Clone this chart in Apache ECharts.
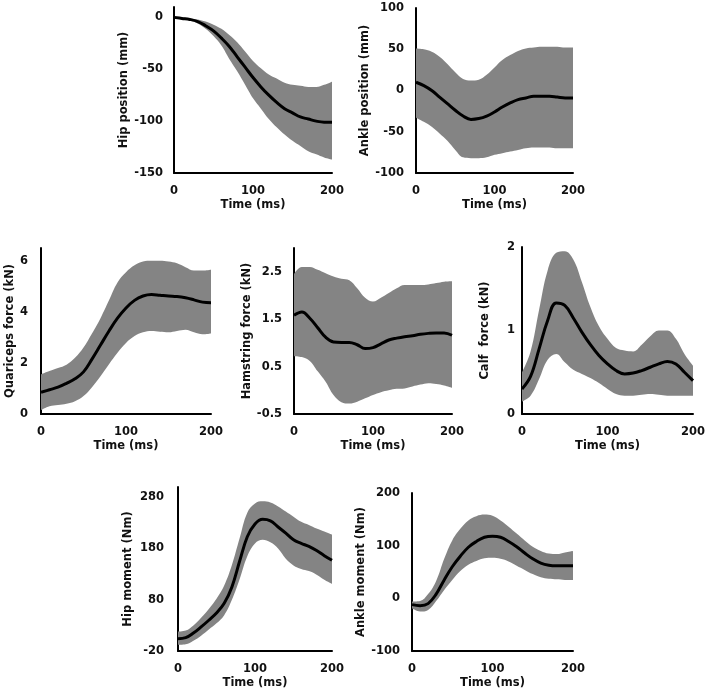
<!DOCTYPE html>
<html>
<head>
<meta charset="utf-8">
<script src="https://cdn.jsdelivr.net/npm/echarts@6/dist/echarts.min.js"></script>
<style>
  html, body { margin: 0; padding: 0; background: #fff; }
  #container { width: 708px; height: 697px; }
</style>
</head>
<body>
<div id="container"></div>
<script>
// time points (ms)
var time = [0, 10, 20, 30, 40, 50, 60, 70, 80, 90, 100, 110, 120, 130, 140, 150, 160, 170, 180, 190, 200];

// hip position (mm)
var hipPosMean  = [0, -1, -2, -4, -8, -13, -20, -28, -38, -48, -58, -67, -75, -82, -88, -92, -96, -98, -100, -101, -101];
var hipPosUpper = [0, 0, -1, -2, -4, -7, -11, -17, -24, -33, -42, -49, -55, -59, -63, -65, -66, -67, -67, -65, -62];
var hipPosLower = [0, -1, -3, -6, -11, -18, -27, -40, -52, -65, -78, -88, -98, -106, -113, -119, -124, -129, -132, -135, -137];

// ankle position (mm)
var anklePosMean  = [10, 6, 0, -8, -16, -24, -31, -35, -34, -31, -26, -20, -15, -11, -9, -7, -7, -7, -8, -9, -9];
var anklePosUpper = [51, 50, 47, 41, 32, 22, 14, 12, 13, 19, 28, 37, 43, 48, 51, 52, 53, 53, 53, 52, 52];
var anklePosLower = [-33, -38, -44, -52, -61, -72, -81, -82, -82, -81, -78, -76, -74, -72, -70, -69, -69, -69, -70, -70, -70];

// quadriceps force (kN)
var quadMean  = [0.85, 0.95, 1.05, 1.2, 1.38, 1.65, 2.15, 2.7, 3.25, 3.75, 4.15, 4.45, 4.62, 4.68, 4.65, 4.62, 4.6, 4.55, 4.47, 4.38, 4.36];
var quadUpper = [1.55, 1.68, 1.8, 1.93, 2.2, 2.6, 3.15, 3.75, 4.45, 5.15, 5.55, 5.82, 5.97, 6.0, 6.0, 5.97, 5.9, 5.75, 5.62, 5.62, 5.65];
var quadLower = [0.15, 0.3, 0.35, 0.4, 0.5, 0.7, 1.05, 1.48, 1.95, 2.4, 2.78, 3.05, 3.2, 3.25, 3.22, 3.2, 3.25, 3.3, 3.2, 3.12, 3.15];

// hamstring force (kN)
var hamMean  = [1.58, 1.65, 1.52, 1.32, 1.12, 1.02, 1.01, 1.01, 0.96, 0.88, 0.9, 0.98, 1.06, 1.1, 1.13, 1.15, 1.18, 1.2, 1.21, 1.21, 1.16];
var hamUpper = [2.45, 2.6, 2.6, 2.54, 2.47, 2.4, 2.35, 2.32, 2.15, 1.95, 1.87, 1.95, 2.05, 2.15, 2.22, 2.22, 2.22, 2.23, 2.26, 2.29, 2.3];
var hamLower = [0.72, 0.7, 0.62, 0.4, 0.18, -0.1, -0.25, -0.28, -0.24, -0.17, -0.1, -0.04, 0.0, 0.03, 0.04, 0.08, 0.12, 0.15, 0.13, 0.1, 0.05];

// calf force (kN)
var calfMean  = [0.3, 0.45, 0.78, 1.12, 1.33, 1.3, 1.15, 0.98, 0.83, 0.7, 0.6, 0.52, 0.48, 0.49, 0.52, 0.56, 0.6, 0.63, 0.6, 0.5, 0.4];
var calfUpper = [0.5, 0.75, 1.25, 1.72, 1.93, 1.95, 1.85, 1.58, 1.28, 1.05, 0.9, 0.79, 0.76, 0.75, 0.83, 0.93, 1.0, 1.0, 0.9, 0.72, 0.58];
var calfLower = [0.15, 0.22, 0.42, 0.65, 0.72, 0.62, 0.53, 0.48, 0.43, 0.37, 0.3, 0.24, 0.22, 0.22, 0.23, 0.24, 0.23, 0.22, 0.22, 0.22, 0.22];

// hip moment (Nm)
var hipMomMean  = [4, 6, 15, 27, 40, 54, 73, 105, 155, 203, 228, 237, 234, 222, 210, 197, 190, 184, 176, 166, 157];
var hipMomUpper = [18, 20, 30, 45, 62, 82, 108, 148, 200, 250, 268, 272, 270, 262, 252, 242, 232, 226, 219, 213, 207];
var hipMomLower = [-8, -7, 0, 10, 22, 34, 50, 80, 120, 165, 190, 197, 192, 180, 160, 147, 140, 136, 129, 119, 111];

// ankle moment (Nm)
var ankleMomMean  = [-12, -14, -10, 8, 35, 60, 80, 97, 108, 116, 118, 116, 108, 98, 86, 75, 67, 63, 62, 62, 62];
var ankleMomUpper = [-6, -5, 8, 33, 75, 110, 132, 148, 156, 159, 157, 148, 136, 123, 110, 98, 90, 85, 84, 87, 90];
var ankleMomLower = [-19, -25, -22, -5, 16, 35, 52, 64, 71, 76, 77, 75, 70, 62, 54, 46, 40, 37, 36, 35, 35];

var panels = [
	{ name: 'Hip position (mm)', mean: hipPosMean, upper: hipPosUpper, lower: hipPosLower,
	  grid: [174, 7, 158, 166], min: -150, max: 10, interval: 50, margin: 11, gap: 41 },
	{ name: 'Ankle position (mm)', mean: anklePosMean, upper: anklePosUpper, lower: anklePosLower,
	  grid: [416, 8, 157, 165], min: -100, max: 100, interval: 50, margin: 12, gap: 41 },
	{ name: 'Quariceps force (kN)', mean: quadMean, upper: quadUpper, lower: quadLower,
	  grid: [41, 248, 170, 166], min: 0, max: 6.5, interval: 2, margin: 13, gap: 25 },
	{ name: 'Hamstring force (kN)', mean: hamMean, upper: hamUpper, lower: hamLower,
	  grid: [294, 248, 158, 166], min: -0.5, max: 3, interval: 1, margin: 12, gap: 41 },
	{ name: 'Calf  force (kN)', mean: calfMean, upper: calfUpper, lower: calfLower,
	  grid: [522, 247, 171, 167], min: 0, max: 2, interval: 1, margin: 7, gap: 31 },
	{ name: 'Hip moment (Nm)', mean: hipMomMean, upper: hipMomUpper, lower: hipMomLower,
	  grid: [178, 487, 154, 164], min: -20, max: 300, interval: 100, margin: 14, gap: 44 },
	{ name: 'Ankle moment (Nm)', mean: ankleMomMean, upper: ankleMomUpper, lower: ankleMomLower,
	  grid: [412, 493, 161, 158], min: -100, max: 200, interval: 100, margin: 12, gap: 39 }
];

var font = 'DejaVu Sans';
var textColor = '#111';

function buildOption() {
	var grids = [], xAxes = [], yAxes = [], series = [];
	for (var i = 0; i < panels.length; i++) {
		var p = panels[i];
		grids.push({ left: p.grid[0], top: p.grid[1], width: p.grid[2], height: p.grid[3], containLabel: false });
		xAxes.push({
			type: 'category', gridIndex: i, data: time, boundaryGap: false,
			name: 'Time (ms)', nameLocation: 'middle', nameGap: 26,
			nameTextStyle: { fontFamily: font, fontWeight: 'bold', fontSize: 11.5, color: textColor },
			axisLine: { show: true, onZero: false, lineStyle: { color: '#000', width: 2 } },
			axisTick: { show: false },
			splitLine: { show: false },
			axisLabel: {
				margin: 12, fontFamily: font, fontWeight: 'bold', fontSize: 11.5, color: textColor,
				interval: function (idx, val) { return val % 100 === 0; }
			}
		});
		yAxes.push({
			type: 'value', gridIndex: i, min: p.min, max: p.max, interval: p.interval,
			name: p.name, nameLocation: 'middle', nameGap: p.gap, nameRotate: 90,
			nameTextStyle: { fontFamily: font, fontWeight: 'bold', fontSize: 11.5, color: textColor },
			axisLine: { show: true, lineStyle: { color: '#000', width: 2 } },
			axisTick: { show: false },
			splitLine: { show: false },
			axisLabel: {
				margin: p.margin, fontFamily: font, fontWeight: 'bold', fontSize: 11.5, color: textColor,
				showMaxLabel: ((p.max - p.min) % p.interval) === 0
			}
		});
		// band = upper - lower, stacked on the lower bound
		var band = [];
		for (var k = 0; k < time.length; k++) {
			band.push(+(p.upper[k] - p.lower[k]).toFixed(3));
		}
		series.push({
			type: 'line', xAxisIndex: i, yAxisIndex: i, data: p.lower,
			stack: 'band' + i, stackStrategy: 'all', symbol: 'none', smooth: 0.4,
			lineStyle: { opacity: 0 }, silent: true
		});
		series.push({
			type: 'line', xAxisIndex: i, yAxisIndex: i, data: band,
			stack: 'band' + i, stackStrategy: 'all', symbol: 'none', smooth: 0.4,
			lineStyle: { opacity: 0 }, areaStyle: { color: '#848484', opacity: 1 }, silent: true
		});
		series.push({
			type: 'line', xAxisIndex: i, yAxisIndex: i, data: p.mean,
			symbol: 'none', smooth: 0.4, z: 5,
			lineStyle: { color: '#000', width: 3 }, silent: true
		});
	}
	return {
		backgroundColor: '#fff',
		animation: false,
		grid: grids,
		xAxis: xAxes,
		yAxis: yAxes,
		series: series
	};
}

var myChart = echarts.init(document.getElementById('container'));
myChart.setOption(buildOption());
</script>
</body>
</html>
